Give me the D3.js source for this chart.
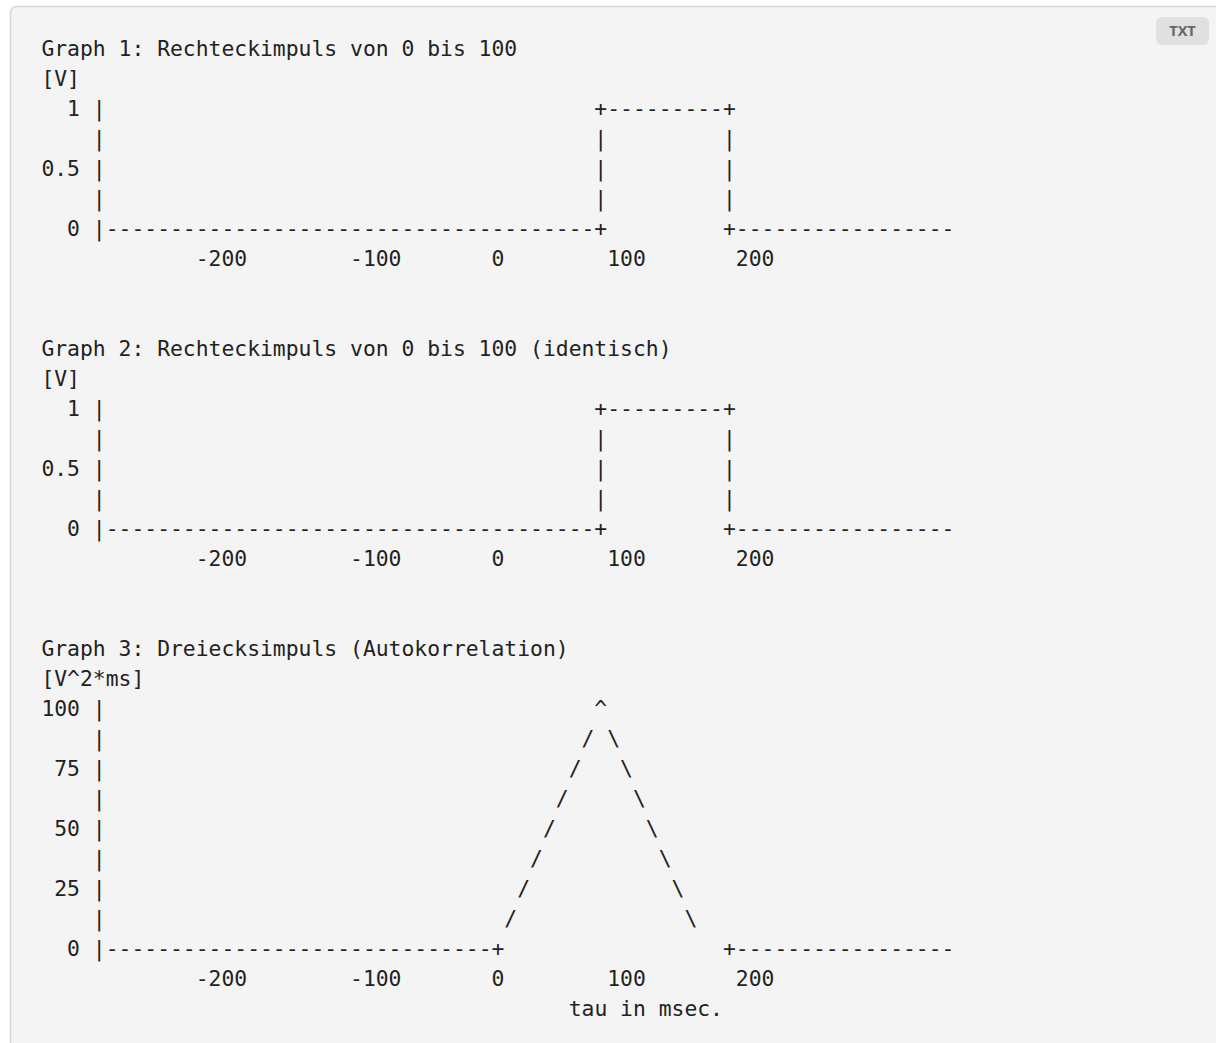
<!DOCTYPE html>
<html>
<head>
<meta charset="utf-8">
<script src="https://cdn.jsdelivr.net/npm/d3@7"></script>
<style>
  html, body { margin: 0; padding: 0; background: #ffffff; overflow: hidden; }
  svg { display: block; }
</style>
</head>
<body>
<svg id="chart" width="1216" height="1043"></svg>
<script>
// ---- data -------------------------------------------------------------
// shared time axis (tau, ms)
const xTickValues = [-200, -100, 0, 100, 200];
const xAxisTitle = "tau in msec.";

// Graph 1: rectangular pulse
const graph1Title = "Graph 1: Rechteckimpuls von 0 bis 100";
const graph1Unit = "[V]";
const pulse1Time = [80, 80, 180, 180];
const pulse1Volt = [0, 1, 1, 0];
const pulseTicks = [0, 0.5, 1];

// Graph 2: the same pulse
const graph2Title = "Graph 2: Rechteckimpuls von 0 bis 100 (identisch)";
const graph2Unit = "[V]";
const pulse2Time = [80, 80, 180, 180];
const pulse2Volt = [0, 1, 1, 0];

// Graph 3: triangular autocorrelation
const graph3Title = "Graph 3: Dreiecksimpuls (Autokorrelation)";
const graph3Unit = "[V^2*ms]";
const corrTime = [0, 80, 150, 180];
const corrValue = [0, 100, 12.5, 0];
const corrTicks = [0, 25, 50, 75, 100];

// ---- layout -----------------------------------------------------------
const W = 1216, H = 1043;
const MONO = "'DejaVu Sans Mono', monospace";
const FONT_SIZE = 21.36;   // px
const CW = 12.86;          // width of one character cell
const LH = 30;             // line pitch
const X0 = 41.4;           // left edge of column 0
const Y0 = 55.5;           // baseline of line 0
const AXIS_COL = 4;        // column of the vertical axis bar
const AXIS_END_COL = 70;   // last column of the baseline
const LABEL_END_COL = 3;   // y labels end before this column
const XTITLE_COL = 41;
const INK = "#222222";

// time -> character column (continuous); the text axis is hand-spaced,
// so each tick interval gets its own stretch of columns
const xCol = d3.scaleLinear()
  .domain(xTickValues)
  .range([14, 26, 35.5, 45.5, 55.5]);
const colOf = t => Math.floor(xCol(t) + 1e-9);
const px = c => X0 + c * CW;
const py = line => Y0 + line * LH;

const svg = d3.select("#chart");

// code-block panel
svg.append("rect")
  .attr("x", 10.5).attr("y", 6.5)
  .attr("width", W + 40).attr("height", H + 40)
  .attr("rx", 6)
  .attr("fill", "#f4f4f4")
  .attr("stroke", "#d6d6d6")
  .attr("stroke-width", 1.6);

// language badge
const badge = svg.append("g").attr("transform", "translate(1156,17)");
badge.append("rect").attr("width", 53).attr("height", 28).attr("rx", 6).attr("fill", "#e0e0e0");
badge.append("text")
  .attr("x", 26.5).attr("y", 19.2)
  .attr("text-anchor", "middle")
  .attr("font-family", "'Open Sans', 'DejaVu Sans', sans-serif")
  .attr("font-weight", 700)
  .attr("font-size", 14.5)
  .attr("fill", "#666666")
  .text("TXT");

const text = svg.append("g")
  .attr("font-family", MONO)
  .attr("font-size", FONT_SIZE)
  .attr("fill", INK);

// Draw one ASCII-style graph; returns the next free line index.
function drawGraph(base, spec) {
  const rows = (spec.ticks.length - 1) * 2;
  const yRow = d3.scaleLinear().domain(d3.extent(spec.ticks)).range([rows, 0]);
  const pts = spec.time.map((t, i) => ({ t, v: spec.value[i] }));
  const tol = 1e-6 * d3.max(spec.ticks);
  const cells = new Map();
  const put = (r, c, ch) => cells.set(r + ":" + c, { r, c, ch });

  // vertical axis
  for (let r = 0; r <= rows; r++) put(r, AXIS_COL, "|");

  // baseline, open where the signal leaves zero
  const onCol = colOf(pts[0].t);
  const offCol = colOf(pts[pts.length - 1].t);
  for (let c = AXIS_COL + 1; c < onCol; c++) put(rows, c, "-");
  put(rows, onCol, "+");
  put(rows, offCol, "+");
  for (let c = offCol + 1; c <= AXIS_END_COL; c++) put(rows, c, "-");

  // signal, one text row per level
  for (let r = 0; r < rows; r++) {
    const L = yRow.invert(r);
    const on = v => Math.abs(v - L) < tol;
    for (let i = 0; i < pts.length - 1; i++) {
      const a = pts[i], b = pts[i + 1];
      const lo = Math.min(a.v, b.v), hi = Math.max(a.v, b.v);
      if (on(a.v) && on(b.v)) {
        for (let c = colOf(a.t) + 1; c < colOf(b.t); c++) put(r, c, "-");
      } else if (L > lo + tol && L < hi - tol) {
        const t = a.t + (L - a.v) / (b.v - a.v) * (b.t - a.t);
        const ch = a.t === b.t ? "|" : (b.v > a.v ? "/" : "\\");
        put(r, colOf(t), ch);
      }
    }
    pts.forEach((p, i) => {
      if (!on(p.v) || i === 0 || i === pts.length - 1) return;
      const prev = pts[i - 1], next = pts[i + 1];
      let ch;
      if (on(prev.v) || on(next.v)) ch = "+";
      else if (prev.v < p.v && next.v < p.v) ch = "^";
      else ch = prev.v > next.v ? "\\" : "/";
      put(r, colOf(p.t), ch);
    });
  }

  // title and unit
  text.append("text").attr("x", px(0)).attr("y", py(base)).text(spec.title);
  text.append("text").attr("x", px(0)).attr("y", py(base + 1)).text(spec.unit);

  // y tick labels
  text.append("g").selectAll("text")
    .data(spec.ticks)
    .join("text")
    .attr("x", px(LABEL_END_COL))
    .attr("y", v => py(base + 2 + yRow(v)))
    .attr("text-anchor", "end")
    .text(v => String(v));

  // plot glyphs
  text.append("g").selectAll("text")
    .data(Array.from(cells.values()))
    .join("text")
    .attr("x", d => px(d.c + 0.5))
    .attr("y", d => py(base + 2 + d.r))
    .attr("text-anchor", "middle")
    .text(d => d.ch);

  // x tick labels
  const tickLine = base + 3 + rows;
  text.append("g").selectAll("text")
    .data(xTickValues)
    .join("text")
    .attr("x", v => px(xCol(v)))
    .attr("y", py(tickLine))
    .attr("text-anchor", "middle")
    .text(v => String(v));

  return tickLine + 1;
}

let line = 0;
line = drawGraph(line, { title: graph1Title, unit: graph1Unit, time: pulse1Time, value: pulse1Volt, ticks: pulseTicks }) + 2;
line = drawGraph(line, { title: graph2Title, unit: graph2Unit, time: pulse2Time, value: pulse2Volt, ticks: pulseTicks }) + 2;
line = drawGraph(line, { title: graph3Title, unit: graph3Unit, time: corrTime, value: corrValue, ticks: corrTicks });

text.append("text")
  .attr("x", px(XTITLE_COL))
  .attr("y", py(line))
  .text(xAxisTitle);
</script>
</body>
</html>
